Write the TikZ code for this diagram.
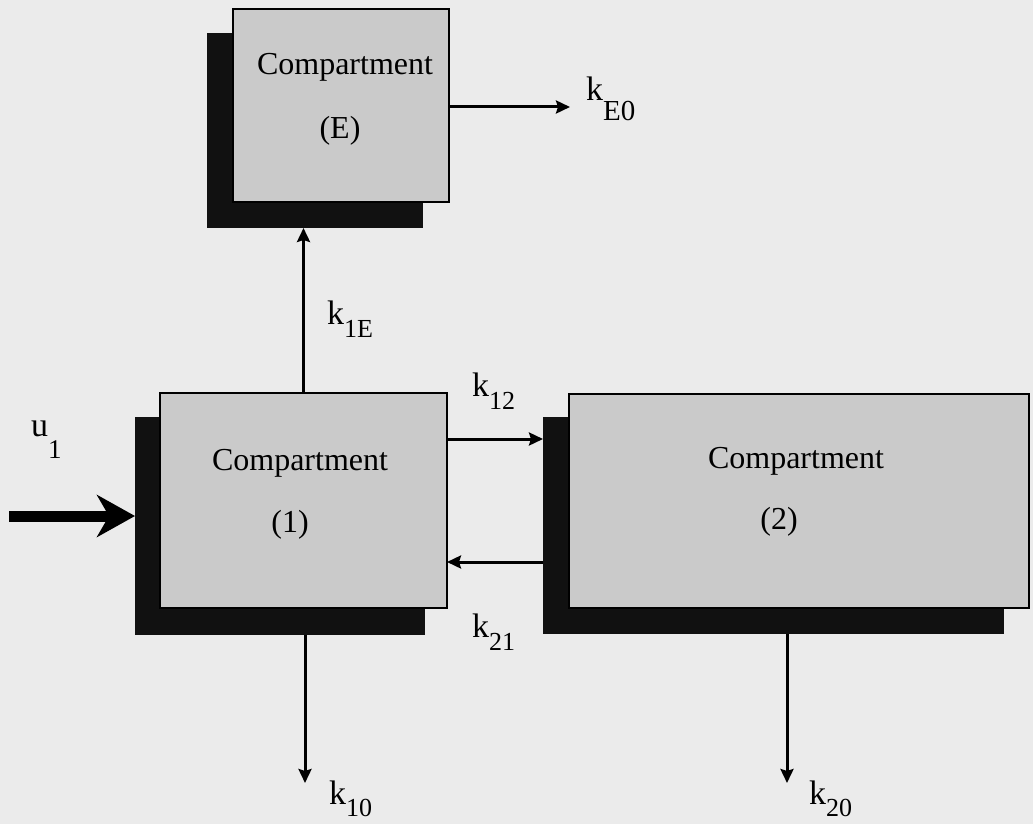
\documentclass[tikz,border=0pt]{standalone}
\usepackage{fontspec}
\setmainfont{Liberation Serif}
\usetikzlibrary{arrows.meta}
\definecolor{pagebg}{HTML}{EBEBEB}
\definecolor{boxgray}{HTML}{CACACA}
\definecolor{shadowblack}{HTML}{111111}
\newcommand{\mainsize}{\fontsize{32}{36}\selectfont}
\newcommand{\klab}[4]{\fontsize{34}{36}\selectfont #1\raisebox{-#3pt}{\fontsize{#4}{#4}\selectfont #2}}
\begin{document}
\begin{tikzpicture}[x=1pt,y=-1pt,
  shadowbox/.style={fill=shadowblack, draw=none, inner sep=0pt, outer sep=0pt},
  frontbox/.style={fill=boxgray, draw=black, line width=2.5pt, inner sep=0pt, outer sep=0pt},
  boxtext/.style={inner sep=0pt, anchor=base, font=\mainsize},
  klabel/.style={inner sep=0pt, anchor=base west},
  flow/.style={draw=black, line width=3pt, -{Stealth[length=14pt,width=13pt,inset=2pt]}},
  bigflow/.style={draw=black, line width=11pt, -{Stealth[length=38pt,width=42pt,inset=12pt]}}
]
\fill[pagebg] (0,0) rectangle (1033,824);
\useasboundingbox (0,0) rectangle (1033,824);

% shadows
\node[shadowbox, minimum width=216pt, minimum height=195pt] (sE) at (315,130.5) {};
\node[shadowbox, minimum width=290pt, minimum height=218pt] (s1) at (280,526) {};
\node[shadowbox, minimum width=461pt, minimum height=217pt] (s2) at (773.5,525.5) {};

% front boxes
\node[frontbox, minimum width=216pt, minimum height=193pt] (cE) at (341,105.5) {};
\node[frontbox, minimum width=287pt, minimum height=215pt] (c1) at (303.5,500.5) {};
\node[frontbox, minimum width=460pt, minimum height=214pt] (c2) at (799,501) {};

% box texts
\node[boxtext] (tE1) at (345,75) {Compartment};
\node[boxtext] (tE2) at (340,139) {(E)};
\node[boxtext] (t11) at (300,470) {Compartment};
\node[boxtext] (t12) at (290,532) {(1)};
\node[boxtext] (t21) at (796,468) {Compartment};
\node[boxtext] (t22) at (779,529) {(2)};

% coordinates for free ends / levels
\coordinate (uin) at (9,516);
\coordinate (kE0end) at (570,107);
\coordinate (k12y) at (0,439);
\coordinate (k21y) at (0,562);
\coordinate (k10end) at (305,783);
\coordinate (k20end) at (787,783);

% connectors
\draw[bigflow] (uin) -- (s1.west |- uin);
\draw[flow] (c1.north) -- (c1.north |- sE.south);
\draw[flow] (cE.east |- kE0end) -- (kE0end);
\draw[flow] (c1.east |- k12y) -- (s2.west |- k12y);
\draw[flow] (s2.west |- k21y) -- (c1.east |- k21y);
\draw[flow] (s1.south -| k10end) -- (k10end);
\draw[flow] (s2.south -| k20end) -- (k20end);

% labels
\node[klabel] (lu1) at (31,436) {\klab{u}{1}{22}{27}};
\node[klabel] (lkE0) at (586,101) {\klab{k}{E0}{20}{29}};
\node[klabel] (lk1E) at (327,324) {\klab{k}{1E}{13}{26}};
\node[klabel] (lk12) at (472,396) {\klab{k}{12}{13}{26}};
\node[klabel] (lk21) at (472,637) {\klab{k}{21}{13}{26}};
\node[klabel] (lk10) at (329,804) {\klab{k}{10}{12}{26}};
\node[klabel] (lk20) at (809,804) {\klab{k}{20}{12}{26}};
\end{tikzpicture}
\end{document}
